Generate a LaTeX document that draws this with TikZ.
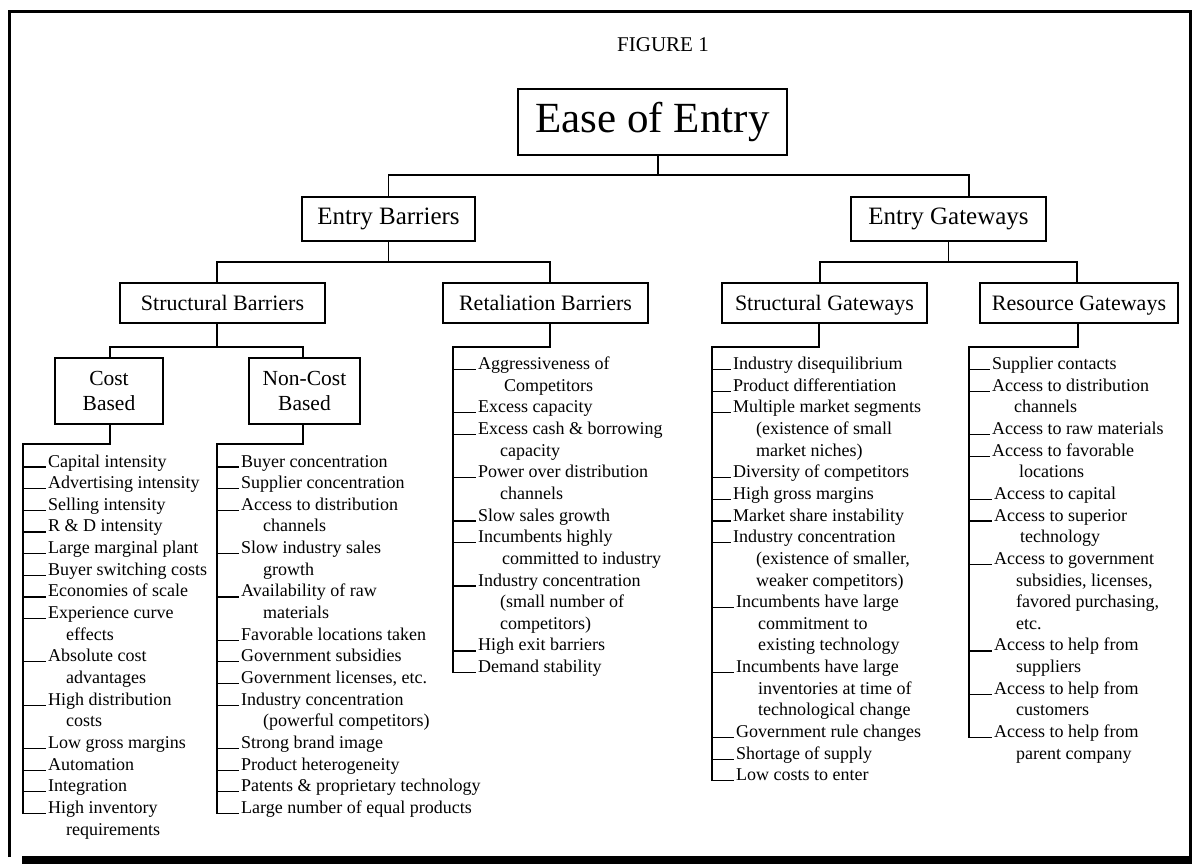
\documentclass[tikz,border=0pt]{standalone}
\usepackage{fontspec}
\setmainfont{Liberation Serif}
\newcommand\itemcol[6]{%
  \foreach \i/\t in {#5} {
    \node[item] (#1\i) at (#3, #4+\i*21.65) {\t};
    \draw[link] (#1\i.base west -| #2) -- (#1\i.base west);
  }
  \foreach \i/\d/\t in {#6} {
    \node[item] (#1c\i) at (#3+\d, #4+\i*21.65) {\t};
  }
}
\begin{document}
\begin{tikzpicture}[x=1pt,y=-1pt,
  box/.style={draw, line width=1.2pt, inner sep=0pt, align=center},
  item/.style={anchor=base west, inner xsep=2pt, inner ysep=0pt, font=\fontsize{18}{21.65}\selectfont},
  link/.style={line width=1.2pt}]
\useasboundingbox (0,0) rectangle (1192,864);
% frame
\fill (22,856) rectangle (1192,864);
\draw[line width=3pt] (9.5,857) -- (9.5,11.5) -- (1190.5,11.5) -- (1190.5,857);
% boxes
\node[font=\fontsize{21}{25}\selectfont] (fig) at (663,45) {FIGURE 1};
\node[box, minimum width=269pt, minimum height=66pt, font=\fontsize{43}{50}\selectfont] (ease) at (652.5,122) {Ease of Entry};
\node[box, minimum width=173pt, minimum height=44pt, font=\fontsize{25}{30}\selectfont] (eb) at (388.5,219) {Entry Barriers};
\node[box, minimum width=195pt, minimum height=44pt, font=\fontsize{25}{30}\selectfont] (eg) at (948.5,219) {Entry Gateways};
\node[box, minimum width=205pt, minimum height=40pt, font=\fontsize{22}{26}\selectfont] (sb) at (222.5,303) {Structural Barriers};
\node[box, minimum width=205pt, minimum height=40pt, font=\fontsize{22}{26}\selectfont] (rb) at (545.5,303) {Retaliation Barriers};
\node[box, text depth=0pt, minimum width=205pt, minimum height=40pt, font=\fontsize{22}{26}\selectfont] (sg) at (824.5,303) {Structural Gateways};
\node[box, text depth=0pt, minimum width=198pt, minimum height=40pt, font=\fontsize{22}{26}\selectfont] (rg) at (1079,303) {Resource Gateways};
\node[box, minimum width=108pt, minimum height=66pt, font=\fontsize{21.5}{25.7}\selectfont] (cb) at (109,391) {Cost\\Based};
\node[box, minimum width=111pt, minimum height=66pt, font=\fontsize{21.5}{25.7}\selectfont] (nb) at (304.5,391) {Non-Cost\\Based};
% tree connectors
\coordinate (j0) at (658,175);
\draw[link] ([xshift=5.5pt]ease.south) -- (j0);
\draw[link] (eb.north) |- (j0) -| ([xshift=20.5pt]eg.north);
\coordinate (j1) at (389,262);
\draw[link] (eb.south) -- (eb.south |- j1);
\draw[link] ([xshift=-5.5pt]sb.north) |- (j1) -| ([xshift=4.5pt]rb.north);
\coordinate (j2) at (948,262);
\draw[link] (eg.south) -- (eg.south |- j2);
\draw[link] ([xshift=-4.5pt]sg.north) |- (j2) -| ([xshift=-2pt]rg.north);
\coordinate (j3) at (217,347);
\draw[link] ([xshift=-5.5pt]sb.south) -- (j3);
\draw[link] ([xshift=1pt]cb.north) |- (j3) -| ([xshift=-1.5pt]nb.north);
% trunks
\coordinate (ct) at (23,444);
\coordinate (nt) at (217,444);
\coordinate (rt) at (453,347);
\coordinate (st) at (712,347);
\coordinate (gt) at (969,347);
% lists
\itemcol{c}{ct}{46}{467}{0/Capital intensity, 1/Advertising intensity, 2/Selling intensity, 3/R \& D intensity, 4/Large marginal plant, 5/Buyer switching costs, 6/Economies of scale, 7/Experience curve, 9/Absolute cost, 11/High distribution, 13/Low gross margins, 14/Automation, 15/Integration, 16/High inventory}{8/18/effects, 10/18/advantages, 12/18/costs, 17/18/requirements}
\itemcol{n}{nt}{239}{467}{0/Buyer concentration, 1/Supplier concentration, 2/Access to distribution, 4/Slow industry sales, 6/Availability of raw, 8/Favorable locations taken, 9/Government subsidies, 10/{Government licenses, etc.}, 11/Industry concentration, 13/Strong brand image, 14/Product heterogeneity, 15/Patents \& proprietary technology, 16/Large number of equal products}{3/22/channels, 5/22/growth, 7/22/materials, 12/22/(powerful competitors)}
\itemcol{r}{rt}{476}{369.5}{0/Aggressiveness of, 2/Excess capacity, 3/Excess cash \& borrowing, 5/Power over distribution, 7/Slow sales growth, 8/Incumbents highly, 10/Industry concentration, 13/High exit barriers, 14/Demand stability}{1/26/Competitors, 4/22/capacity, 6/22/channels, 9/24/committed to industry, 11/22/(small number of, 12/22/competitors)}
\itemcol{s}{st}{731}{369.5}{0/Industry disequilibrium, 1/Product differentiation, 2/Multiple market segments, 5/Diversity of competitors, 6/High gross margins, 7/Market share instability, 8/Industry concentration}{3/23/(existence of small, 4/23/market niches), 9/23/{(existence of smaller,}, 10/23/weaker competitors)}
\itemcol{s}{st}{734}{369.5}{11/Incumbents have large, 14/Incumbents have large, 17/Government rule changes, 18/Shortage of supply, 19/Low costs to enter}{12/22/commitment to, 13/22/existing technology, 15/22/inventories at time of, 16/22/technological change}
\itemcol{g}{gt}{990}{369.5}{0/Supplier contacts, 1/Access to distribution, 3/Access to raw materials, 4/Access to favorable}{2/22/channels, 5/27/locations}
\itemcol{g}{gt}{992}{369.5}{6/Access to capital, 7/Access to superior, 9/Access to government, 13/Access to help from, 15/Access to help from, 17/Access to help from}{8/26/technology, 10/22/{subsidies, licenses,}, 11/22/{favored purchasing,}, 12/22/etc., 14/22/suppliers, 16/22/customers, 18/22/parent company}
\draw[link] ([xshift=1pt]cb.south) |- (ct) |- (c16.base west);
\draw[link] ([xshift=-1.5pt]nb.south) |- (nt) |- (n16.base west);
\draw[link] ([xshift=4.5pt]rb.south) |- (rt) |- (r14.base west);
\draw[link] ([xshift=-5.5pt]sg.south) |- (st) |- (s19.base west);
\draw[link] ([xshift=-1pt]rg.south) |- (gt) |- (g17.base west);
\end{tikzpicture}
\end{document}
